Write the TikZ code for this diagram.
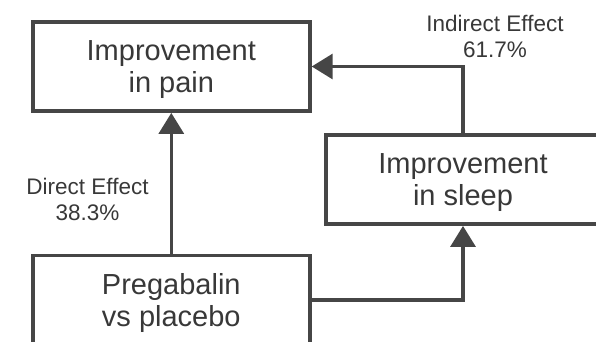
\documentclass[tikz,border=0pt]{standalone}
\usepackage{fontspec}
\setmainfont{Liberation Sans}
\usetikzlibrary{arrows.meta}
\definecolor{edge}{HTML}{464646}
\definecolor{ink}{HTML}{383838}
\begin{document}
\begin{tikzpicture}[x=1pt,y=-1pt,
  box/.style={draw=edge, line width=3.8pt, minimum width=277pt, minimum height=89pt,
    inner sep=0pt, align=center, text=ink, font=\fontsize{29}{31.5}\selectfont, text depth=0pt},
  lbl/.style={align=center, text=ink, font=\fontsize{22.5}{26}\selectfont,
    inner sep=0pt, text depth=0pt},
  conn/.style={draw=edge, line width=3.2pt, -{Triangle[length=21pt,width=25pt]}}]
\useasboundingbox (0,0) rectangle (596,341);
\clip (0,0) rectangle (596,341);
% boxes
\node[box] (pain) at (171.3,66.5) {Improvement\\in pain};
\node[box, minimum width=274pt] (sleep) at (463,179.5) {Improvement\\in sleep};
\node[box] (preg) at (171.3,300) {Pregabalin\\vs placebo};
% effect labels
\node[lbl] (ind) at (495,36) {Indirect Effect\\61.7\%};
\node[lbl] (dir) at (87.5,199) {Direct Effect\\38.3\%};
% paths
\draw[conn] (preg.north) -- (pain.south);
\draw[conn] (sleep.north) |- (pain.east);
\draw[conn] (preg.east) -| (sleep.south);
\end{tikzpicture}
\end{document}
